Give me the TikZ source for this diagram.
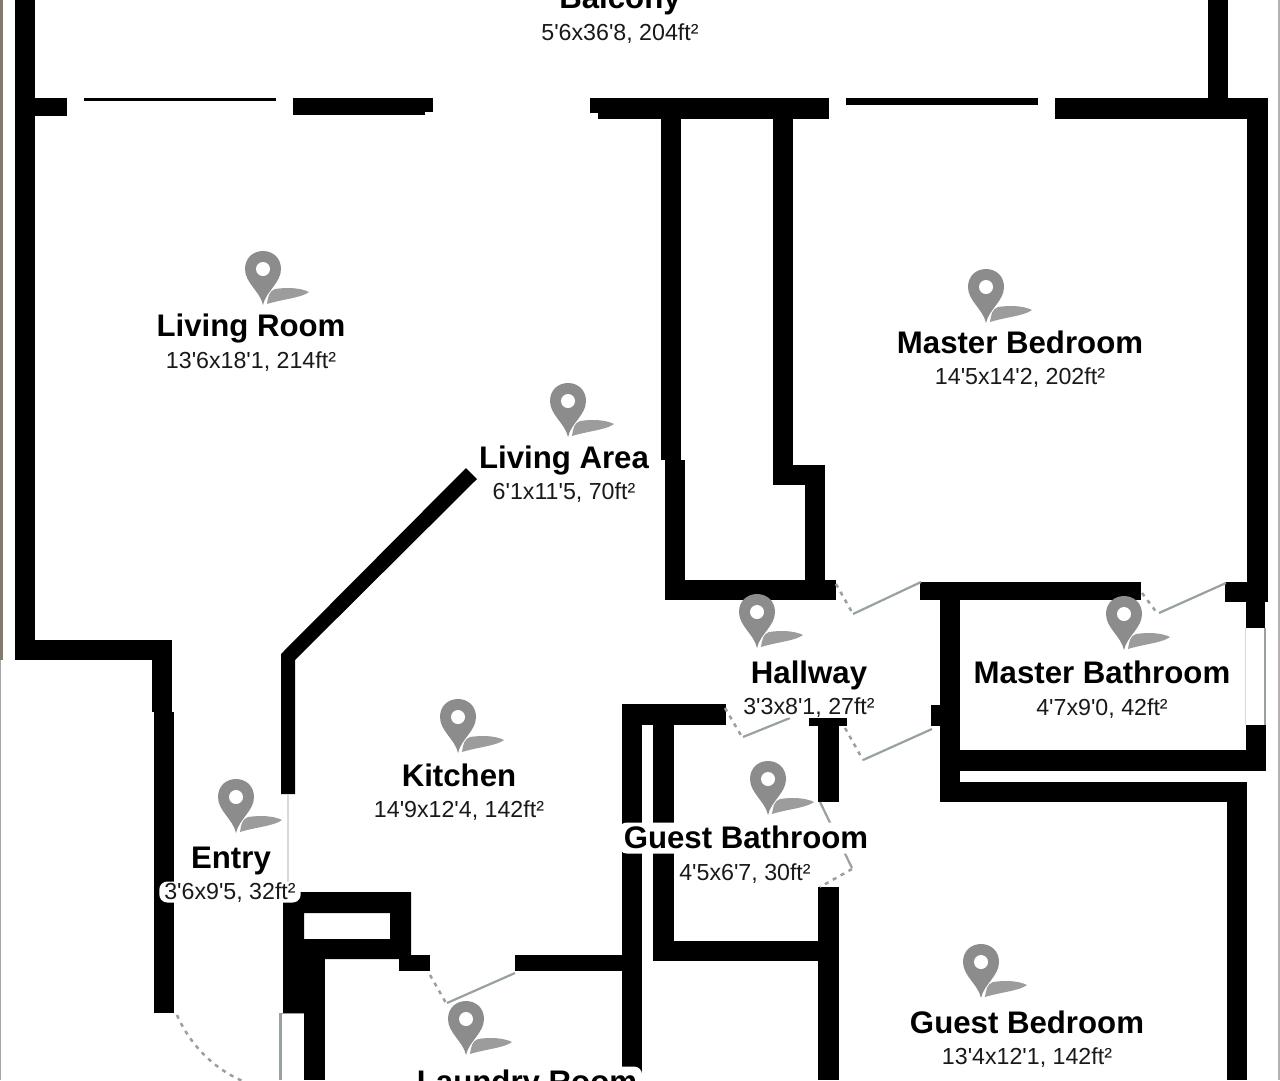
\documentclass[tikz,border=0pt]{standalone}
\usepackage{fontspec}
\newfontfamily\planfont{Liberation Sans}
\definecolor{markergray}{HTML}{8C8C8C}
\definecolor{shadowgray}{HTML}{9C9C9C}
\definecolor{doorgray}{HTML}{98A0A0}
\definecolor{edgebrown}{HTML}{85796A}

\begin{document}
\begin{tikzpicture}[
    x=1pt, y=-1pt,
    wall/.style={fill=black},
    doorleaf/.style={draw=doorgray, line width=2.2pt},
    doorswing/.style={draw=doorgray, line width=2.5pt, dash pattern=on 4pt off 5pt},
    roomname/.style={fill=white, rounded corners=8pt, inner xsep=5pt, inner ysep=0.5pt,
        text height=25pt, text depth=5pt, text=black,
        font=\planfont\bfseries\fontsize{31.2}{31.2}\selectfont},
    roomsize/.style={fill=white, rounded corners=8pt, inner xsep=5pt, inner ysep=0.5pt,
        text height=17.5pt, text depth=2.5pt, text=black!90,
        font=\planfont\fontsize{23.2}{23.2}\selectfont},
    marker/.pic={
        \fill[shadowgray] (4,-1) .. controls (5,-8) and (6,-14) .. (12,-16)
            .. controls (25,-18) and (38,-17) .. (46,-13)
            .. controls (38,-7) and (20,-6) .. (4,-1) -- cycle;
        \fill[markergray] (0,0) .. controls (-3,-14) and (-18,-22) .. (-18,-36)
            .. controls (-18,-47) and (-10,-54) .. (0,-54)
            .. controls (10,-54) and (18,-47) .. (18,-36)
            .. controls (18,-22) and (3,-14) .. (0,0) -- cycle;
        \fill[white] (0,-36) circle[radius=7];
    }
]
    \clip (0,0) rectangle (1280,1080);

    \fill[color=edgebrown] (0,0) rectangle (3,660);
    \fill[color=black!35] (0,660) rectangle (1,1080);
    \fill[color=black!30] (1278,0) rectangle (1280,1080);

    % outer walls
    \fill[wall] (15,0) rectangle (35,660);
    \fill[wall] (15,640) rectangle (172,660);
    \fill[wall] (152,660) rectangle (172,712);
    \fill[wall] (154,712) rectangle (174,1013);
    \fill[wall] (1208,0) rectangle (1228,98);
    \fill[wall] (35,98) rectangle (67,116);
    \fill[wall] (84,98) rectangle (276,101);
    \fill[wall] (293,98) rectangle (425,115);
    \fill[wall] (425,98) rectangle (433,112);
    \fill[wall] (590,98) rectangle (598,113);
    \fill[wall] (598,98) rectangle (829,119);
    \fill[wall] (846,98) rectangle (1038,105);
    \fill[wall] (1055,98) rectangle (1268,119);
    \fill[wall] (1247,119) rectangle (1268,602);
    \fill[wall] (1225,582) rectangle (1268,602);
    \fill[wall] (1246,602) rectangle (1265,628);
    \fill[wall] (1246,725) rectangle (1266,750);
    \fill[color=doorgray] (1264,628) rectangle (1266,725);
    \fill[color=black!15] (1245,628) rectangle (1246,725);

    % shaft and master rooms
    \fill[wall] (661,119) rectangle (681,460);
    \fill[wall] (773,119) rectangle (793,485);
    \fill[wall] (665,460) rectangle (685,600);
    \fill[wall] (793,465) rectangle (825,485);
    \fill[wall] (805,485) rectangle (825,582);
    \fill[wall] (665,580) rectangle (836,600);
    \fill[wall] (920,582) rectangle (1141,600);
    \fill[wall] (940,600) rectangle (960,802);
    \fill[wall] (931,705) rectangle (940,726);
    \fill[wall] (940,750) rectangle (1266,771);
    \fill[wall] (941,782) rectangle (1247,802);
    \fill[wall] (1227,802) rectangle (1247,1080);

    % kitchen, guest bathroom
    \fill[wall] (466,468) -- (477,479) -- (295,660) -- (295,794) -- (281,794) -- (281,654) -- cycle;
    \fill[wall] (622,704) rectangle (726,725);
    \fill[wall] (622,725) rectangle (642,1080);
    \fill[wall] (653,725) rectangle (674,961);
    \fill[wall] (674,941) rectangle (820,961);
    \fill[wall] (809,718) rectangle (847,726);
    \fill[wall] (818,726) rectangle (839,802);
    \fill[wall] (818,887) rectangle (839,1080);

    % closet, laundry
    \fill[wall, even odd rule] (283,892) rectangle (411,959) (304,913) rectangle (390,939);
    \fill[wall] (283,959) rectangle (325,1013);
    \fill[wall] (304,1013) rectangle (325,1080);
    \fill[wall] (399,955) rectangle (430,971);
    \fill[wall] (515,955) rectangle (642,971);
    \fill[color=black!15] (287,794) rectangle (289,892);
    \fill[color=doorgray] (279,1013) rectangle (282,1080);
    \fill[color=black!40] (282,1013) rectangle (304,1014);

    % doors
    \draw[doorswing] (836,584) -- (853,614);
    \draw[doorleaf] (853,614) -- (921,582);
    \draw[doorswing] (1142,593) -- (1157,613);
    \draw[doorleaf] (1159,613) -- (1226,583);
    \draw[doorswing] (845,728) -- (863,760);
    \draw[doorleaf] (863,760) -- (932,729);
    \draw[doorswing] (725,708) -- (742,737);
    \draw[doorleaf] (743,737) -- (790,718);
    \draw[doorleaf] (820,802) -- (852,868);
    \draw[doorswing] (852,869) -- (820,887);
    \draw[doorswing] (430,975) -- (446,1003);
    \draw[doorleaf] (447,1003) -- (515,973);
    \draw[doorswing] (177,1015) .. controls (190,1045) and (215,1070) .. (245,1082);

    \pic at (263,305) {marker};
    \pic at (568,437) {marker};
    \pic at (986,323) {marker};
    \pic at (757,648) {marker};
    \pic at (1124,650) {marker};
    \pic at (458,753) {marker};
    \pic at (236,833) {marker};
    \pic at (768,815) {marker};
    \pic at (981,998) {marker};
    \pic at (466,1055) {marker};

    \node[roomname] (balcony) at (620,-2) {Balcony};
    \node[roomsize] (balconysize) at (620,33) {5'6x36'8, 204ft²};
    \node[roomname] (livingroom) at (251,326) {Living Room};
    \node[roomsize] (livingroomsize) at (251,361) {13'6x18'1, 214ft²};
    \node[roomname] (livingarea) at (564,458) {Living Area};
    \node[roomsize] (livingareasize) at (564,492) {6'1x11'5, 70ft²};
    \node[roomname] (masterbedroom) at (1020,343) {Master Bedroom};
    \node[roomsize] (masterbedroomsize) at (1020,377) {14'5x14'2, 202ft²};
    \node[roomname] (hallway) at (809,673) {Hallway};
    \node[roomsize] (hallwaysize) at (809,707) {3'3x8'1, 27ft²};
    \node[roomname] (masterbathroom) at (1102,673) {Master Bathroom};
    \node[roomsize] (masterbathroomsize) at (1102,708) {4'7x9'0, 42ft²};
    \node[roomname] (kitchen) at (459,776) {Kitchen};
    \node[roomsize] (kitchensize) at (459,810) {14'9x12'4, 142ft²};
    \node[roomname] (entry) at (231,858) {Entry};
    \node[roomsize] (entrysize) at (230,892) {3'6x9'5, 32ft²};
    \node[roomname] (guestbathroom) at (746,838) {Guest Bathroom};
    \node[roomsize] (guestbathroomsize) at (745,873) {4'5x6'7, 30ft²};
    \node[roomname] (guestbedroom) at (1027,1023) {Guest Bedroom};
    \node[roomsize] (guestbedroomsize) at (1027,1057) {13'4x12'1, 142ft²};
    \node[roomname] (laundryroom) at (527,1082) {Laundry Room};
\end{tikzpicture}
\end{document}
